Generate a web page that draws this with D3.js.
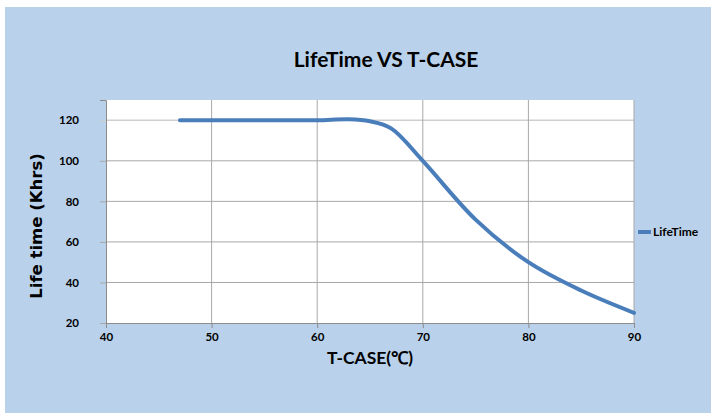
<!DOCTYPE html>
<html>
<head>
<meta charset="utf-8">
<script src="https://cdn.jsdelivr.net/npm/d3@7"></script>
<style>
  body { margin: 0; background: #fff; }
  svg { display: block; }
  text { font-family: Lato, "Open Sans", sans-serif; font-weight: bold; fill: #000; }
</style>
</head>
<body>
<svg id="chart" width="711" height="413"></svg>
<script>
"use strict";

var width  = 711,
    height = 413;

// data
var tcase    = [47, 55, 60, 63, 65, 67, 70, 75, 80, 85, 90];
var lifetime = [120, 120, 120, 120.5, 119.5, 116, 100, 71, 50, 36, 25];
var xTicks   = [40, 50, 60, 70, 80, 90];
var yTicks   = [20, 40, 60, 80, 100, 120];

var margin = {left: 106, right: 77, top: 100, bottom: 90};

var chart = d3.select("#chart");

// blue chart area
chart.append("rect")
    .attr("x", 5).attr("y", 7)
    .attr("width", width - 5).attr("height", height - 7)
    .attr("fill", "#b9d1ea");

var x = d3.scaleLinear()
          .domain([40, 90])
          .range([margin.left, width - margin.right]);

var y = d3.scaleLinear()
          .domain([20, 130])
          .range([height - margin.bottom, margin.top]);

// plot area
chart.append("rect")
    .attr("x", x(40)).attr("y", y(130))
    .attr("width", x(90) - x(40)).attr("height", y(20) - y(130))
    .attr("fill", "#fff");

// grid
chart.append("g").selectAll("line")
    .data(yTicks.slice(1))
  .enter().append("line")
    .attr("x1", x(40)).attr("x2", x(90))
    .attr("y1", y).attr("y2", y)
    .attr("stroke", function(d) { return d === 120 ? "#cfcfcf" : "#a8a8a8"; })
    .attr("stroke-width", function(d) { return d === 120 ? 1.5 : 1; });

chart.append("g").selectAll("line")
    .data(xTicks.slice(1))
  .enter().append("line")
    .attr("x1", x).attr("x2", x)
    .attr("y1", y(130)).attr("y2", y(20))
    .attr("stroke", "#a8a8a8");

// axes
var xAxis = chart.append("g")
    .attr("transform", "translate(0," + y(20) + ")")
    .call(d3.axisBottom(x).tickValues(xTicks).tickSize(5).tickPadding(5));

var yAxis = chart.append("g")
    .attr("transform", "translate(" + x(40) + ",0)")
    .call(d3.axisLeft(y).tickValues(yTicks).tickSize(6).tickPadding(21));

[xAxis, yAxis].forEach(function(a) {
    a.select(".domain").attr("stroke", "#8c8c8c");
    a.selectAll(".tick line").attr("stroke", "#8c8c8c");
    a.selectAll("text").style("font-size", "11.5px").attr("fill", "#000");
});
yAxis.selectAll(".tick line").attr("stroke", function(d) { return d === 120 ? "#cfcfcf" : "#a8a8a8"; });

// the curve
var line = d3.line()
    .x(function(d, i) { return x(tcase[i]); })
    .y(function(d) { return y(d); })
    .curve(d3.curveCatmullRom.alpha(0.5));

chart.append("path")
    .datum(lifetime)
    .attr("d", line)
    .attr("fill", "none")
    .attr("stroke", "#4a7ebb")
    .attr("stroke-width", 4)
    .attr("stroke-linecap", "round");

// titles
chart.append("text")
    .attr("x", 386).attr("y", 67)
    .attr("text-anchor", "middle")
    .style("font-size", "21px")
    .text("LifeTime VS T-CASE");

chart.append("text")
    .attr("transform", "translate(42,226) rotate(-90)")
    .attr("text-anchor", "middle")
    .style("font-family", "'DejaVu Sans', Verdana, sans-serif")
    .style("font-size", "16.5px")
    .text("Life time (Khrs)");

chart.append("text")
    .attr("x", 370).attr("y", 364)
    .attr("text-anchor", "middle")
    .style("font-size", "17.5px")
    .text("T-CASE(℃)");

// legend
var legend = chart.append("g")
    .attr("transform", "translate(638,232)");
legend.append("line")
    .attr("x1", 0).attr("x2", 13)
    .attr("stroke", "#4a7ebb").attr("stroke-width", 4);
legend.append("text")
    .attr("x", 15).attr("dy", "0.35em")
    .style("font-size", "12px")
    .text("LifeTime");
</script>
</body>
</html>
